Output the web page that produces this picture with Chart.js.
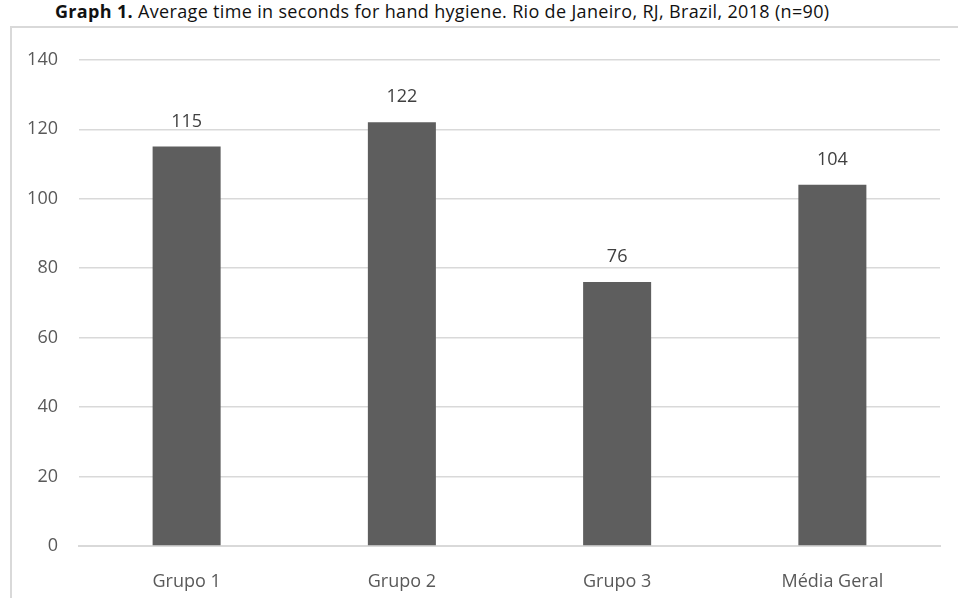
<!DOCTYPE html>
<html lang="en">
<head>
<meta charset="UTF-8">
<title>Graph 1</title>
<script src="https://cdn.jsdelivr.net/npm/chart.js"></script>
<style>
  body { margin: 0; background: #fff; font-family: "Open Sans", sans-serif; }
  .titulo { position: absolute; left: 55px; top: -1px; font-size: 18px; letter-spacing: 0.33px; color: #111; white-space: nowrap; }
  .moldura { position: absolute; left: 10px; top: 26px; width: 948px; height: 572px;
             border-left: 2px solid #d9d9d9; border-top: 2px solid #d9d9d9; }
  .moldura canvas { display: block; }
</style>
</head>
<body>
<div class="titulo"><b>Graph 1.</b> Average time in seconds for hand hygiene. Rio de Janeiro, RJ, Brazil, 2018 (n=90)</div>
<div class="moldura"><canvas id="grafico" width="946" height="570"></canvas></div>
<script>
const grupos = ['Grupo 1', 'Grupo 2', 'Grupo 3', 'Média Geral'];
const tempos = [115, 122, 76, 104];
const ticksY = [0, 20, 40, 60, 80, 100, 120, 140];

// rótulos de valor por cima das barras
const rotulos = {
  id: 'rotulos',
  afterDatasetsDraw(chart) {
    const ctx = chart.ctx;
    ctx.save();
    ctx.font = '18px "Open Sans"';
    ctx.fillStyle = '#404040';
    ctx.textAlign = 'center';
    ctx.textBaseline = 'middle';
    chart.getDatasetMeta(0).data.forEach((bar, i) => {
      ctx.fillText(tempos[i], bar.x, bar.y - 25);
    });
    ctx.restore();
  }
};

new Chart(document.getElementById('grafico'), {
  type: 'bar',
  data: {
    labels: grupos,
    datasets: [{
      data: tempos,
      backgroundColor: '#5e5e5e',
      categoryPercentage: 1,
      barPercentage: 0.316
    }]
  },
  options: {
    responsive: false,
    animation: false,
    layout: { padding: { top: 26, right: 18, bottom: 0, left: 0 } },
    plugins: { legend: { display: false }, tooltip: { enabled: false } },
    scales: {
      y: {
        min: 0, max: 140,
        afterBuildTicks: s => { s.ticks = ticksY.map(v => ({ value: v })); },
        afterFit: s => { s.width = 67; },
        grid: { color: '#d9d9d9', lineWidth: 1.5, drawTicks: false },
        border: { display: false },
        ticks: { color: '#595959', font: { family: 'Open Sans', size: 18 }, padding: 21 }
      },
      x: {
        afterFit: s => { s.height = 52; },
        grid: { display: false },
        border: { color: '#d9d9d9', width: 2 },
        ticks: { color: '#595959', font: { family: 'Open Sans', size: 18 }, padding: 17 }
      }
    }
  },
  plugins: [rotulos]
});
</script>
</body>
</html>
